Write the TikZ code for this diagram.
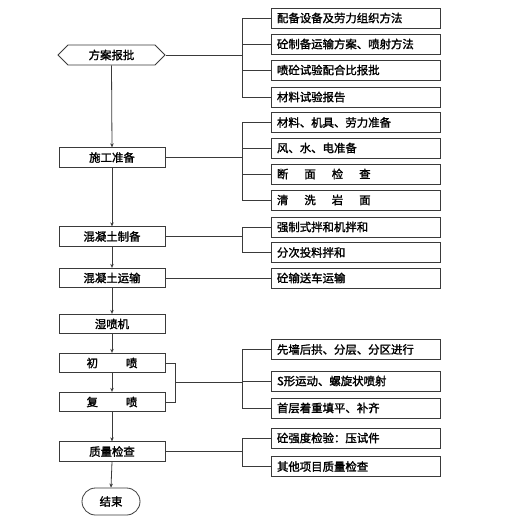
\documentclass[tikz,border=0pt]{standalone}
\usepackage{fontspec}
\setmainfont{Noto Sans CJK SC}[FakeBold=1.6]
\usetikzlibrary{shapes.symbols,shapes.misc,arrows.meta}
\definecolor{ln}{HTML}{3A3A3A}
\tikzset{
  every node/.style={font=\fontsize{11.4pt}{13pt}\selectfont, text=black, inner sep=0pt},
  lbox/.style={draw=ln, line width=0.8pt, rectangle, minimum width=106pt, minimum height=19.5pt},
  rbox/.style={draw=ln, line width=0.8pt, rectangle, minimum width=169pt, minimum height=20pt, text width=157pt, align=left},
  hexbox/.style={draw=ln, line width=0.8pt, signal, signal to=west and east, minimum width=107pt, minimum height=20pt},
  endbox/.style={draw=ln, line width=0.8pt, rounded rectangle, minimum width=58pt, minimum height=27pt},
  conn/.style={draw=ln, line width=0.8pt},
  arr/.style={draw=ln, line width=0.8pt, -{Stealth[length=4pt,width=3.5pt]}}
}
\begin{document}
\begin{tikzpicture}[x=1pt,y=-1pt]
\useasboundingbox (0,0) rectangle (506,517);
% left column
\node[hexbox] (hex) at (111.5,55) {方案报批};
\node[lbox] (sg) at (112,157.5) {施工准备};
\node[lbox] (zb) at (112,236.5) {混凝土制备};
\node[lbox] (ys) at (112,278) {混凝土运输};
\node[lbox] (sp) at (112,324) {湿喷机};
\node[lbox] (cp) at (112,363) {初\hspace{28pt}喷};
\node[lbox] (fp) at (112,402) {复\hspace{28pt}喷};
\node[lbox] (zl) at (112,451.5) {质量检查};
\node[endbox] (end) at (111,501.5) {结束};
% right column
\node[rbox] (r1) at (355.5,18) {配备设备及劳力组织方法};
\node[rbox] (r2) at (355.5,44) {砼制备运输方案、喷射方法};
\node[rbox] (r3) at (355.5,70) {喷砼试验配合比报批};
\node[rbox] (r4) at (355.5,97) {材料试验报告};
\node[rbox] (r5) at (355.5,122.5) {材料、机具、劳力准备};
\node[rbox] (r6) at (355.5,148) {风、水、电准备};
\node[rbox] (r7) at (355.5,174) {断\hspace{16pt}面\hspace{16pt}检\hspace{16pt}查};
\node[rbox] (r8) at (355.5,200) {清\hspace{16pt}洗\hspace{16pt}岩\hspace{16pt}面};
\node[rbox] (r9) at (355.5,227) {强制式拌和机拌和};
\node[rbox] (r10) at (355.5,252.5) {分次投料拌和};
\node[rbox] (r11) at (355.5,278) {砼输送车运输};
\node[rbox] (r12) at (355.5,349.5) {先墙后拱、分层、分区进行};
\node[rbox] (r13) at (355.5,381) {S形运动、螺旋状喷射};
\node[rbox] (r14) at (355.5,408) {首层着重填平、补齐};
\node[rbox] (r15) at (355.5,438) {砼强度检验：压试件};
\node[rbox] (r16) at (355.5,466.5) {其他项目质量检查};
% bracket coordinates
\coordinate (b1) at (242,55);
\coordinate (b2) at (242,157.5);
\coordinate (b3) at (242,236.5);
\coordinate (b4) at (242,382);
\coordinate (b5) at (242,451.5);
\coordinate (k) at (175,382);
% main arrows
\draw[arr] (hex.south) -- (sg.north);
\draw[arr] (sg.south) -- (zb.north);
\draw[arr] (zb.south) -- (ys.north);
\draw[arr] (ys.south) -- (sp.north);
\draw[arr] (sp.south) -- (cp.north);
\draw[arr] (cp.south) -- (fp.north);
\draw[arr] (fp.south) -- (zl.north);
\draw[arr] (zl.south) -- (end.north);
% group 1
\draw[conn] (hex.east) -- (b1);
\draw[conn] (r1.west) -- (r1.west -| b1) -- (r4.west -| b1) -- (r4.west);
\draw[conn] (r2.west) -- (r2.west -| b1);
\draw[conn] (r3.west) -- (r3.west -| b1);
% group 2
\draw[conn] (sg.east) -- (b2);
\draw[conn] (r5.west) -- (r5.west -| b2) -- (r8.west -| b2) -- (r8.west);
\draw[conn] (r6.west) -- (r6.west -| b2);
\draw[conn] (r7.west) -- (r7.west -| b2);
% group 3
\draw[conn] (zb.east) -- (b3);
\draw[conn] (r9.west) -- (r9.west -| b3) -- (r10.west -| b3) -- (r10.west);
% single
\draw[conn] (ys.east) -- (r11.west);
% group 4
\draw[conn] (cp.east) -- (cp.east -| k) -- (fp.east -| k) -- (fp.east);
\draw[conn] (k) -- (b4);
\draw[conn] (r12.west) -- (r12.west -| b4) -- (r14.west -| b4) -- (r14.west);
\draw[conn] (r13.west) -- (r13.west -| b4);
% group 5
\draw[conn] (zl.east) -- (b5);
\draw[conn] (r15.west) -- (r15.west -| b5) -- (r16.west -| b5) -- (r16.west);
\end{tikzpicture}
\end{document}
